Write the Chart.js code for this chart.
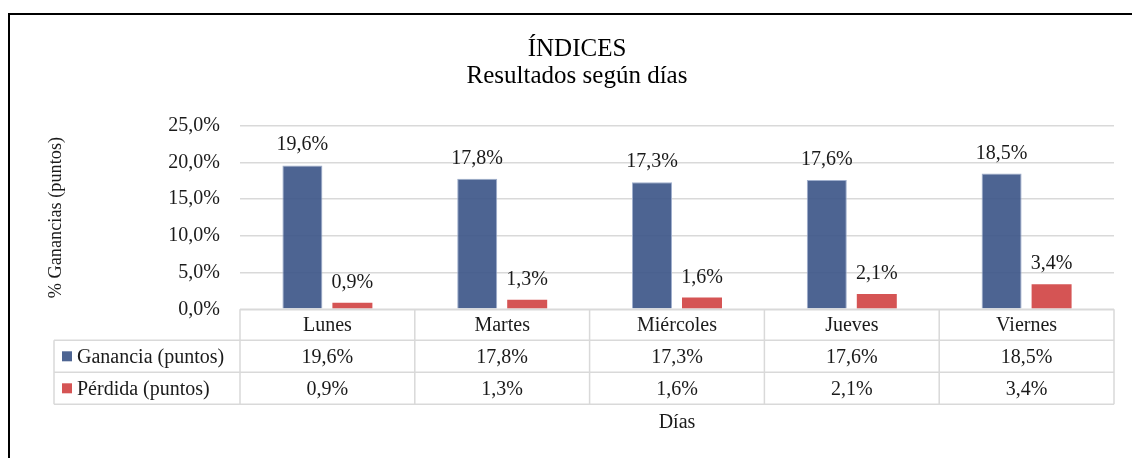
<!DOCTYPE html>
<html><head><meta charset="utf-8">
<script src="https://cdn.jsdelivr.net/npm/chart.js@4.4.1/dist/chart.umd.min.js"></script>
<style>html,body{margin:0;padding:0;background:#fff;} canvas{display:block;}</style>
</head><body>
<canvas id="c" width="1132" height="458"></canvas>
<script>
const categories = ['Lunes', 'Martes', 'Miércoles', 'Jueves', 'Viernes'];
const ganancia = [19.6, 17.8, 17.3, 17.6, 18.5];
const perdida = [0.9, 1.3, 1.6, 2.1, 3.4];
const seriesNames = ['Ganancia (puntos)', 'Pérdida (puntos)'];
const yTicks = [0, 5, 10, 15, 20, 25];
const titleLines = ['ÍNDICES', 'Resultados según días'];
const yTitle = '% Ganancias (puntos)';
const xTitle = 'Días';

const FONT = "'Liberation Serif','Times New Roman',serif";
const TEXT = '#1a1a1a';
const GRID = '#d9d9d9';
const fmt = v => v.toFixed(1).replace('.', ',') + '%';
const swatch = ['#4d6492', '#d55454'];

const tablePlugin = {
  id: 'tbl',
  beforeDraw(chart) {
    const ctx = chart.ctx;
    ctx.save();
    ctx.fillStyle = '#fff';
    ctx.fillRect(0, 0, chart.width, chart.height);
    ctx.fillStyle = '#000';
    ctx.fillRect(8, 13, 2, chart.height - 13);
    ctx.fillRect(8, 13, chart.width - 8, 2);
    ctx.restore();
  },
  afterDatasetsDraw(chart) {
    const ctx = chart.ctx;
    ctx.save();
    ctx.font = '20px ' + FONT;
    ctx.fillStyle = TEXT;
    ctx.textAlign = 'center';
    ctx.textBaseline = 'alphabetic';
    chart.data.datasets.forEach((ds, di) => {
      chart.getDatasetMeta(di).data.forEach((bar, i) => {
        ctx.fillText(fmt(ds.data[i]), bar.x, bar.y - 15);
      });
    });
    ctx.restore();
  },
  afterDraw(chart) {
    const ctx = chart.ctx;
    const ca = chart.chartArea;
    const n = categories.length;
    const w = (ca.right - ca.left) / n;
    const legL = 54;
    const y0 = ca.bottom, y1 = y0 + 31, y2 = y1 + 32, y3 = y2 + 32;
    ctx.save();
    ctx.strokeStyle = GRID;
    ctx.lineWidth = 1.5;
    ctx.beginPath();
    ctx.moveTo(ca.left, y0); ctx.lineTo(ca.right, y0);
    [y1, y2, y3].forEach(y => { ctx.moveTo(legL, y); ctx.lineTo(ca.right, y); });
    for (let i = 0; i <= n; i++) {
      const x = ca.left + i * w;
      ctx.moveTo(x, y0); ctx.lineTo(x, y3);
    }
    ctx.moveTo(legL, y1); ctx.lineTo(legL, y3);
    ctx.stroke();

    ctx.font = '20px ' + FONT;
    ctx.fillStyle = TEXT;
    ctx.textBaseline = 'middle';
    ctx.textAlign = 'center';
    const xs = chart.scales.x;
    categories.forEach((c, i) => {
      const cx = xs.getPixelForValue(i);
      ctx.fillText(c, cx, (y0 + y1) / 2 + 1);
      ctx.fillText(fmt(ganancia[i]), cx, (y1 + y2) / 2 + 1);
      ctx.fillText(fmt(perdida[i]), cx, (y2 + y3) / 2 + 1);
    });
    const rows = [[y1, y2], [y2, y3]];
    seriesNames.forEach((name, si) => {
      const cy = (rows[si][0] + rows[si][1]) / 2;
      ctx.fillStyle = swatch[si];
      ctx.fillRect(62, cy - 5, 10, 10);
      ctx.fillStyle = TEXT;
      ctx.textAlign = 'left';
      ctx.fillText(name, 77, cy + 1);
    });
    ctx.textAlign = 'center';
    ctx.fillText(xTitle, (ca.left + ca.right) / 2, y3 + 18);
    ctx.restore();
  }
};

new Chart(document.getElementById('c'), {
  type: 'bar',
  data: {
    labels: categories,
    datasets: [
      { label: seriesNames[0], data: ganancia, backgroundColor: 'rgba(62,87,137,0.92)', borderColor: 'rgba(150,166,200,0.9)', borderWidth: 1 },
      { label: seriesNames[1], data: perdida, backgroundColor: '#d55454', borderWidth: 0 }
    ]
  },
  options: {
    responsive: false,
    animation: false,
    layout: { padding: { left: 40, right: 18, top: 0, bottom: 148.7 } },
    datasets: { bar: { categoryPercentage: 0.572, barPercentage: 0.8 } },
    plugins: {
      legend: { display: false },
      tooltip: { enabled: false },
      title: {
        display: true,
        text: titleLines,
        color: '#000',
        font: { family: FONT, size: 25, weight: 'normal', lineHeight: 1.07 },
        padding: { top: 36.5, bottom: 35.8 }
      }
    },
    scales: {
      x: { display: false, offset: true },
      y: {
        min: 0, max: 25,
        afterBuildTicks: s => { s.ticks = yTicks.map(v => ({ value: v })); },
        afterFit: s => { s.width = 200; },
        grid: { color: GRID, lineWidth: 1.5, drawTicks: false },
        border: { display: false },
        ticks: { padding: 20, color: TEXT, font: { family: FONT, size: 20 }, callback: v => fmt(v) },
        title: { display: true, text: yTitle, color: TEXT, font: { family: FONT, size: 18.3 }, padding: { top: 5 } }
      }
    }
  },
  plugins: [tablePlugin]
});
</script>
</body></html>
